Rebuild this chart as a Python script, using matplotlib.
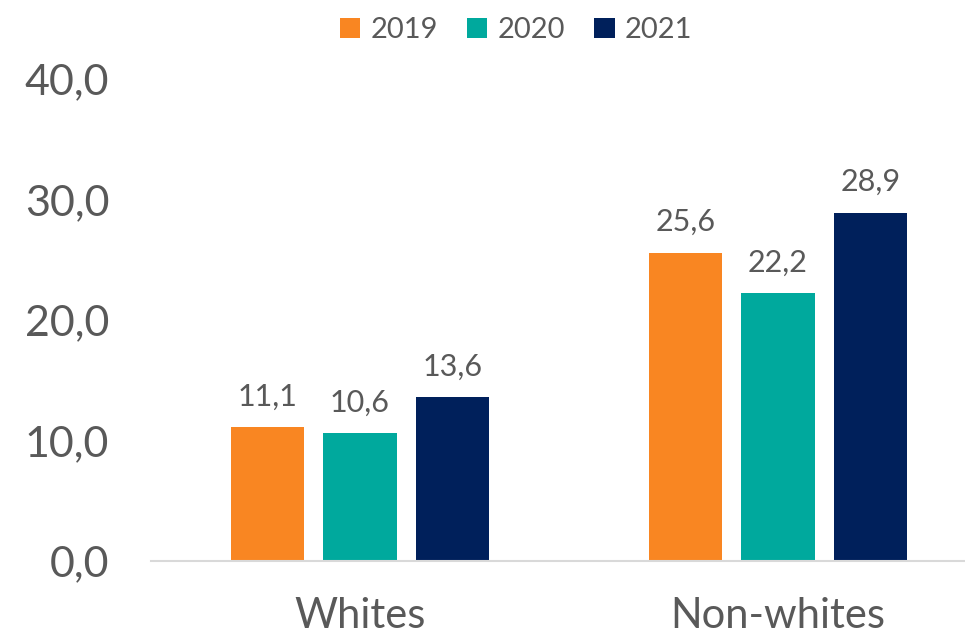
import matplotlib.pyplot as plt
import numpy as np

plt.rcParams['font.family'] = ['Lato', 'DejaVu Sans']

groups = ['Whites', 'Non-whites']
years = ['2019', '2020', '2021']
values = {
    '2019': [11.1, 25.6],
    '2020': [10.6, 22.2],
    '2021': [13.6, 28.9],
}
colors = ['#F98622', '#00A99D', '#00205B']
grey = '#595959'

fig = plt.figure(figsize=(9.65, 6.37), dpi=100)
ax = fig.add_axes([151 / 965, 1 - 561 / 637, 1 - 151 / 965, (561 - 79) / 637])

x = np.arange(len(groups))
width = 0.175
step = 0.222
for i, yr in enumerate(years):
    pos = x + (i - 1) * step
    bars = ax.bar(pos, values[yr], width, color=colors[i], label=yr, zorder=2)
    for b, v in zip(bars, values[yr]):
        ax.annotate(('%.1f' % v).replace('.', ','),
                    (b.get_x() + b.get_width() / 2, v),
                    xytext=(0, 12), textcoords='offset points',
                    ha='center', va='bottom', fontsize=22, color=grey)

ax.set_ylim(0, 40)
ax.set_xlim(-0.5, (965 - 151) / 418 - 0.5)
ax.set_yticks([0, 10, 20, 30, 40])
ax.set_yticklabels(['0,0', '10,0', '20,0', '30,0', '40,0'])
ax.set_xticks(x)
ax.set_xticklabels(groups)
ax.tick_params(axis='y', length=0, pad=30, labelsize=31, labelcolor=grey)
ax.tick_params(axis='x', length=0, pad=26, labelsize=30, labelcolor=grey)

for s in ['top', 'right', 'left']:
    ax.spines[s].set_visible(False)
ax.spines['bottom'].set_color('#D9D9D9')
ax.spines['bottom'].set_linewidth(1.5)

fig.legend(loc='center', bbox_to_anchor=(516 / 965, 1 - 30 / 637), ncol=3,
           frameon=False, fontsize=21, labelcolor=grey,
           handlelength=0.7, handleheight=0.7, handletextpad=0.35,
           columnspacing=1.0)

fig.savefig('out.png', dpi=100)
